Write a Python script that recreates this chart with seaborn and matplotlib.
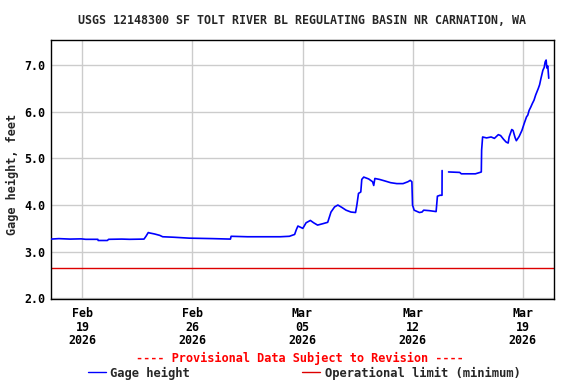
import matplotlib
matplotlib.use("Agg")
import matplotlib.pyplot as plt
import matplotlib.dates as mdates
from matplotlib.lines import Line2D
import seaborn as sns
import pandas as pd
import numpy as np

title = "USGS 12148300 SF TOLT RIVER BL REGULATING BASIN NR CARNATION, WA"
ylabel = "Gage height, feet"
provisional = "---- Provisional Data Subject to Revision ----"
series_label = "Gage height"
limit_label = "Operational limit (minimum)"
operational_limit = 2.65

times_a = [
    "2026-02-17 00:00", "2026-02-17 12:00", "2026-02-18 05:00", "2026-02-18 22:00",
    "2026-02-19 05:00", "2026-02-19 23:30", "2026-02-20 00:00", "2026-02-20 14:00",
    "2026-02-20 16:00", "2026-02-21 12:00", "2026-02-22 00:00", "2026-02-22 22:00",
    "2026-02-23 01:00", "2026-02-23 04:30", "2026-02-23 07:00", "2026-02-23 14:00",
    "2026-02-23 22:00", "2026-02-24 02:30", "2026-02-24 19:00", "2026-02-25 19:00",
    "2026-02-27 07:00", "2026-02-28 10:00", "2026-02-28 11:00", "2026-03-01 12:00",
    "2026-03-03 00:00", "2026-03-03 14:00", "2026-03-04 04:00", "2026-03-04 12:00",
    "2026-03-04 14:30", "2026-03-04 17:00", "2026-03-04 20:00", "2026-03-05 00:30",
    "2026-03-05 05:30", "2026-03-05 12:00", "2026-03-05 17:00", "2026-03-05 23:00",
    "2026-03-06 07:00", "2026-03-06 14:30", "2026-03-06 19:30", "2026-03-07 01:00",
    "2026-03-07 06:00", "2026-03-07 12:00", "2026-03-07 18:30", "2026-03-08 02:00",
    "2026-03-08 09:00", "2026-03-08 11:00", "2026-03-08 13:30", "2026-03-08 17:00",
    "2026-03-08 18:30", "2026-03-08 21:30", "2026-03-09 05:00", "2026-03-09 11:00",
    "2026-03-09 12:45", "2026-03-09 14:30", "2026-03-09 21:30", "2026-03-10 05:00",
    "2026-03-10 14:30", "2026-03-11 00:00", "2026-03-11 09:30", "2026-03-11 17:00",
    "2026-03-11 20:30", "2026-03-11 23:00", "2026-03-12 00:00", "2026-03-12 02:30",
    "2026-03-12 10:30", "2026-03-12 14:30", "2026-03-12 17:00", "2026-03-13 01:30",
    "2026-03-13 12:00", "2026-03-13 14:00", "2026-03-13 18:00", "2026-03-13 21:00",
    "2026-03-13 21:10",
]
values_a = [
    3.27, 3.28, 3.27, 3.275,
    3.265, 3.265, 3.24, 3.24,
    3.265, 3.27, 3.265, 3.27,
    3.33, 3.41, 3.40, 3.38,
    3.35, 3.32, 3.31, 3.29,
    3.28, 3.27, 3.33, 3.32,
    3.32, 3.32, 3.33, 3.37,
    3.47, 3.55, 3.53, 3.50,
    3.62, 3.67, 3.62, 3.57,
    3.60, 3.63, 3.85, 3.96,
    4.00, 3.95, 3.89, 3.85,
    3.84, 4.00, 4.25, 4.28,
    4.55, 4.60, 4.56, 4.50,
    4.42, 4.57, 4.55, 4.52,
    4.48, 4.46, 4.46, 4.50,
    4.53, 4.50, 4.00, 3.89,
    3.84, 3.85, 3.89, 3.88,
    3.86, 4.19, 4.21, 4.21,
    4.74,
]

times_b = [
    "2026-03-14 07:00", "2026-03-15 00:00", "2026-03-15 02:30", "2026-03-16 00:00",
    "2026-03-16 07:00", "2026-03-16 09:00", "2026-03-16 09:30", "2026-03-16 11:00",
    "2026-03-16 17:00", "2026-03-17 00:00", "2026-03-17 05:00", "2026-03-17 11:00",
    "2026-03-17 14:30", "2026-03-17 19:00", "2026-03-17 23:00", "2026-03-18 02:00",
    "2026-03-18 03:30", "2026-03-18 07:30", "2026-03-18 09:30", "2026-03-18 12:30",
    "2026-03-18 14:30", "2026-03-18 18:45", "2026-03-18 23:00", "2026-03-19 02:30",
    "2026-03-19 06:00", "2026-03-19 08:00", "2026-03-19 10:00", "2026-03-19 12:30",
    "2026-03-19 15:00", "2026-03-19 17:30", "2026-03-19 20:00", "2026-03-20 00:00",
    "2026-03-20 02:00", "2026-03-20 04:00", "2026-03-20 07:00", "2026-03-20 09:00",
    "2026-03-20 10:30", "2026-03-20 12:00", "2026-03-20 13:00", "2026-03-20 14:30",
    "2026-03-20 16:00",
]
values_b = [
    4.71, 4.70, 4.67, 4.67,
    4.70, 4.71, 5.18, 5.46,
    5.44, 5.46, 5.43, 5.51,
    5.49, 5.41, 5.35, 5.33,
    5.46, 5.62, 5.60, 5.45,
    5.38, 5.47, 5.60, 5.75,
    5.89, 5.93, 6.03, 6.10,
    6.18, 6.25, 6.36, 6.50,
    6.58, 6.71, 6.89, 6.95,
    7.07, 7.11, 6.94, 6.98,
    6.72,
]

df = pd.concat([
    pd.DataFrame({"time": pd.to_datetime(times_a), "value": values_a, "seg": 0}),
    pd.DataFrame({"time": pd.to_datetime(times_b), "value": values_b, "seg": 1}),
], ignore_index=True)

sns.set_theme(style="white")
mono = ["DejaVu Sans Mono"]
plt.rcParams["font.family"] = mono
plt.rcParams["font.weight"] = "bold"

fig = plt.figure(figsize=(5.76, 3.84), dpi=100)
ax = fig.add_axes([51 / 576, 1 - 299 / 384, 503 / 576, 259 / 384])

red = "#dd0000"
ax.axhline(operational_limit, color=red, lw=1.0, zorder=2)
sns.lineplot(data=df, x="time", y="value", units="seg", estimator=None,
             color="#0000ff", lw=1.2, ax=ax, legend=False, zorder=3)

ax.set_xlim(pd.Timestamp("2026-02-17"), pd.Timestamp("2026-03-21"))
ax.set_ylim(1.985, 7.54)
ax.set_yticks([2.0, 3.0, 4.0, 5.0, 6.0, 7.0])
ax.yaxis.set_major_formatter(matplotlib.ticker.FormatStrFormatter("%.1f"))
ax.set_xticks(pd.to_datetime(["2026-02-19", "2026-02-26", "2026-03-05",
                              "2026-03-12", "2026-03-19"]))
ax.xaxis.set_major_formatter(mdates.DateFormatter("%b\n%d\n%Y"))
ax.grid(True, color="#cccccc", lw=1.0)
ax.set_axisbelow(True)
for s in ax.spines.values():
    s.set_color("black")
    s.set_linewidth(1.0)
ax.tick_params(axis="both", length=0, labelsize=8.4, colors="black")
ax.tick_params(axis="x", pad=6)
ax.tick_params(axis="y", pad=4)
for lab in ax.get_xticklabels():
    lab.set_linespacing(1.05)
    lab.set_fontweight("bold")
for lab in ax.get_yticklabels():
    lab.set_fontweight("bold")
ax.set_xlabel("")
ax.set_ylabel(ylabel, fontsize=8.6, fontweight="bold")
ax.yaxis.set_label_coords(-32 / 503, 0.48)

fig.text(302 / 576, 1 - 20 / 384, title, ha="center", va="center",
         fontsize=8.4, fontweight="bold")
fig.text(300 / 576, 1 - 358 / 384, provisional, ha="center", va="center",
         fontsize=8.6, fontweight="bold", color="#ff0000")

handles = [Line2D([], [], color="#0000ff", lw=1.0),
           Line2D([], [], color=red, lw=1.0)]
fig.legend(handles, [series_label, limit_label], loc="center left",
           bbox_to_anchor=(88 / 576, 1 - 373 / 384), ncol=2, frameon=False,
           fontsize=8.7, handlelength=1.45, handletextpad=0.4,
           columnspacing=9.3, borderaxespad=0, borderpad=0)

fig.savefig("out.png", dpi=100, facecolor="white")
